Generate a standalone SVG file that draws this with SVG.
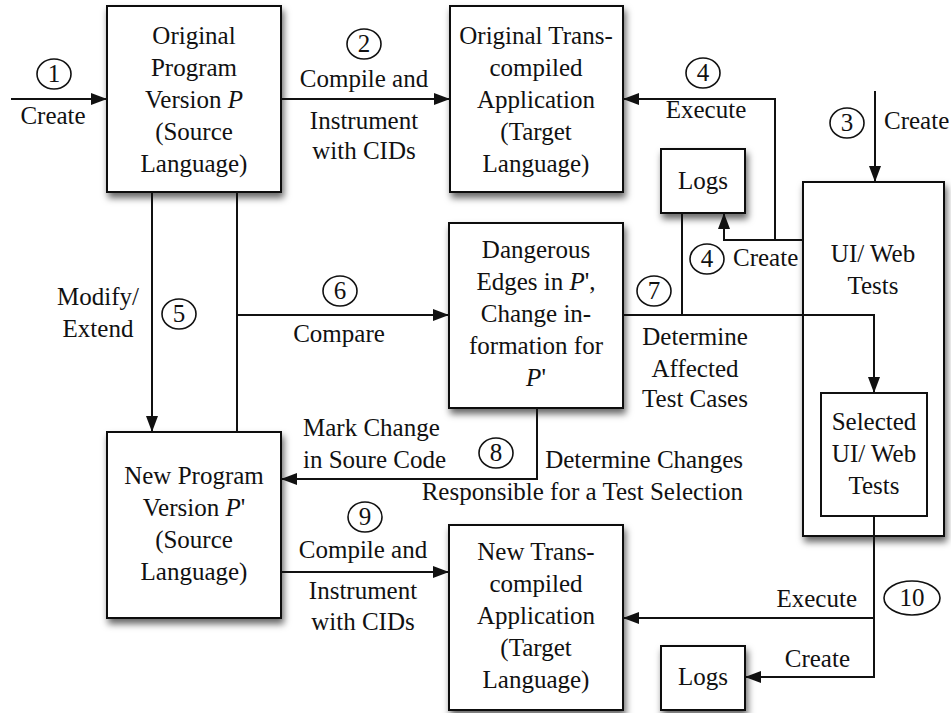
<svg xmlns="http://www.w3.org/2000/svg" width="951" height="713" viewBox="0 0 951 713">
  <style>
    text { font-family: "Liberation Serif", "Times New Roman", serif; font-size: 25px; fill: #111; }
    .c { text-anchor: middle; }
    .e { text-anchor: end; }
    .box { fill: #fff; stroke: #111; stroke-width: 2; }
    .sh { filter: url(#shadow); }
    .wire { fill: none; stroke: #111; stroke-width: 2; }
    .arrow { marker-end: url(#arr); }
    .num { fill: #fff; stroke: #111; stroke-width: 1.6; }
    .it { font-style: italic; }
  </style>
  <defs>
    <filter id="shadow" x="-20%" y="-20%" width="150%" height="150%">
      <feDropShadow dx="2" dy="5" stdDeviation="3.5" flood-color="#000" flood-opacity="0.6"/>
    </filter>
    <marker id="arr" viewBox="0 0 16 12" refX="16" refY="6" markerWidth="16" markerHeight="12" orient="auto" markerUnits="userSpaceOnUse">
      <path d="M0,0 L16,6 L0,12 z" fill="#111"/>
    </marker>
  </defs>

  <rect width="951" height="713" fill="#fff"/>

  <!-- nodes -->
  <g id="orig-program">
    <rect class="box sh" x="107" y="6" width="174" height="186"/>
    <text class="c" x="194" y="44">Original</text>
    <text class="c" x="194" y="76">Program</text>
    <text class="c" x="194" y="108">Version <tspan class="it">P</tspan></text>
    <text class="c" x="194" y="140">(Source</text>
    <text class="c" x="194" y="172">Language)</text>
  </g>

  <g id="orig-transcompiled">
    <rect class="box sh" x="450" y="6" width="173" height="186"/>
    <text class="c" x="536" y="44">Original Trans-</text>
    <text class="c" x="536" y="76">compiled</text>
    <text class="c" x="536" y="108">Application</text>
    <text class="c" x="536" y="140">(Target</text>
    <text class="c" x="536" y="172">Language)</text>
  </g>

  <g id="logs-top">
    <rect class="box sh" x="661" y="149" width="84" height="64"/>
    <text class="c" x="703" y="189">Logs</text>
  </g>

  <g id="dangerous-edges">
    <rect class="box sh" x="449" y="223" width="174" height="185"/>
    <text class="c" x="536" y="258">Dangerous</text>
    <text class="c" x="536" y="290">Edges in <tspan class="it">P</tspan>',</text>
    <text class="c" x="536" y="322">Change in-</text>
    <text class="c" x="536" y="354">formation for</text>
    <text class="c" x="536" y="386"><tspan class="it">P</tspan>'</text>
  </g>

  <g id="web-tests">
    <rect class="box sh" x="803" y="182" width="141" height="354"/>
    <text class="c" x="873" y="262">UI/ Web</text>
    <text class="c" x="873" y="294">Tests</text>
  </g>

  <g id="selected-tests">
    <rect class="box" x="821" y="393" width="106" height="123"/>
    <text class="c" x="874" y="430">Selected</text>
    <text class="c" x="874" y="462">UI/ Web</text>
    <text class="c" x="874" y="494">Tests</text>
  </g>

  <g id="new-program">
    <rect class="box sh" x="107" y="432" width="174" height="186"/>
    <text class="c" x="194" y="484">New Program</text>
    <text class="c" x="194" y="516">Version <tspan class="it">P</tspan>'</text>
    <text class="c" x="194" y="548">(Source</text>
    <text class="c" x="194" y="580">Language)</text>
  </g>

  <g id="new-transcompiled">
    <rect class="box sh" x="449" y="525" width="174" height="185"/>
    <text class="c" x="536" y="560">New Trans-</text>
    <text class="c" x="536" y="592">compiled</text>
    <text class="c" x="536" y="624">Application</text>
    <text class="c" x="536" y="656">(Target</text>
    <text class="c" x="536" y="688">Language)</text>
  </g>

  <g id="logs-bottom">
    <rect class="box sh" x="661" y="646" width="84" height="64"/>
    <text class="c" x="703" y="685">Logs</text>
  </g>

  <!-- connectors -->
  <g id="connectors">
    <path class="wire arrow" d="M11,99 H107"/>
    <path class="wire arrow" d="M281,99 H450"/>
    <path class="wire arrow" d="M875,91 V182"/>
    <path class="wire arrow" d="M803,240 H724 V213"/>
    <path class="wire arrow" d="M775,240 V99 H623"/>
    <path class="wire arrow" d="M152,192 V432"/>
    <path class="wire" d="M237,192 V432"/>
    <path class="wire arrow" d="M237,315 H449"/>
    <path class="wire arrow" d="M623,315 H874 V393"/>
    <path class="wire" d="M682,213 V315"/>
    <path class="wire arrow" d="M537,408 V479 H281"/>
    <path class="wire arrow" d="M281,572 H449"/>
    <path class="wire arrow" d="M874,516 V677 H745"/>
    <path class="wire arrow" d="M874,618 H623"/>
  </g>

  <!-- step numbers and connector labels -->
  <g id="labels">
    <ellipse class="num" cx="54" cy="74" rx="17" ry="15"/>
    <text class="c" x="54" y="82">1</text>
    <text class="c" x="53" y="124">Create</text>

    <ellipse class="num" cx="364" cy="44" rx="17" ry="15"/>
    <text class="c" x="364" y="52">2</text>
    <text class="c" x="364" y="87">Compile and</text>
    <text class="c" x="364" y="129">Instrument</text>
    <text class="c" x="364" y="159">with CIDs</text>

    <ellipse class="num" cx="847" cy="123" rx="17" ry="15"/>
    <text class="c" x="847" y="131">3</text>
    <text x="884" y="129">Create</text>

    <ellipse class="num" cx="703" cy="73" rx="17" ry="15"/>
    <text class="c" x="703" y="81">4</text>
    <text class="c" x="706" y="118">Execute</text>

    <ellipse class="num" cx="707" cy="259" rx="17" ry="15"/>
    <text class="c" x="707" y="267">4</text>
    <text x="733" y="266">Create</text>

    <ellipse class="num" cx="179" cy="314" rx="17" ry="15"/>
    <text class="c" x="179" y="322">5</text>
    <text class="c" x="98" y="305">Modify/</text>
    <text class="c" x="98" y="337">Extend</text>

    <ellipse class="num" cx="340" cy="291" rx="17" ry="15"/>
    <text class="c" x="340" y="299">6</text>
    <text class="c" x="339" y="342">Compare</text>

    <ellipse class="num" cx="654" cy="291" rx="17" ry="15"/>
    <text class="c" x="654" y="299">7</text>
    <text class="c" x="695" y="345">Determine</text>
    <text class="c" x="695" y="377">Affected</text>
    <text class="c" x="695" y="407">Test Cases</text>

    <ellipse class="num" cx="496" cy="453" rx="17" ry="15"/>
    <text class="c" x="496" y="461">8</text>
    <text x="303" y="436">Mark Change</text>
    <text x="303" y="468">in Soure Code</text>
    <text class="e" x="743" y="468">Determine Changes</text>
    <text class="e" x="743" y="500">Responsible for a Test Selection</text>

    <ellipse class="num" cx="365" cy="517" rx="17" ry="15"/>
    <text class="c" x="365" y="525">9</text>
    <text class="c" x="363" y="558">Compile and</text>
    <text class="c" x="363" y="599">Instrument</text>
    <text class="c" x="363" y="630">with CIDs</text>

    <ellipse class="num" cx="912" cy="598" rx="28" ry="17"/>
    <text class="c" x="912" y="606">10</text>
    <text class="e" x="857" y="607">Execute</text>
    <text class="e" x="850" y="667">Create</text>
  </g>
</svg>
